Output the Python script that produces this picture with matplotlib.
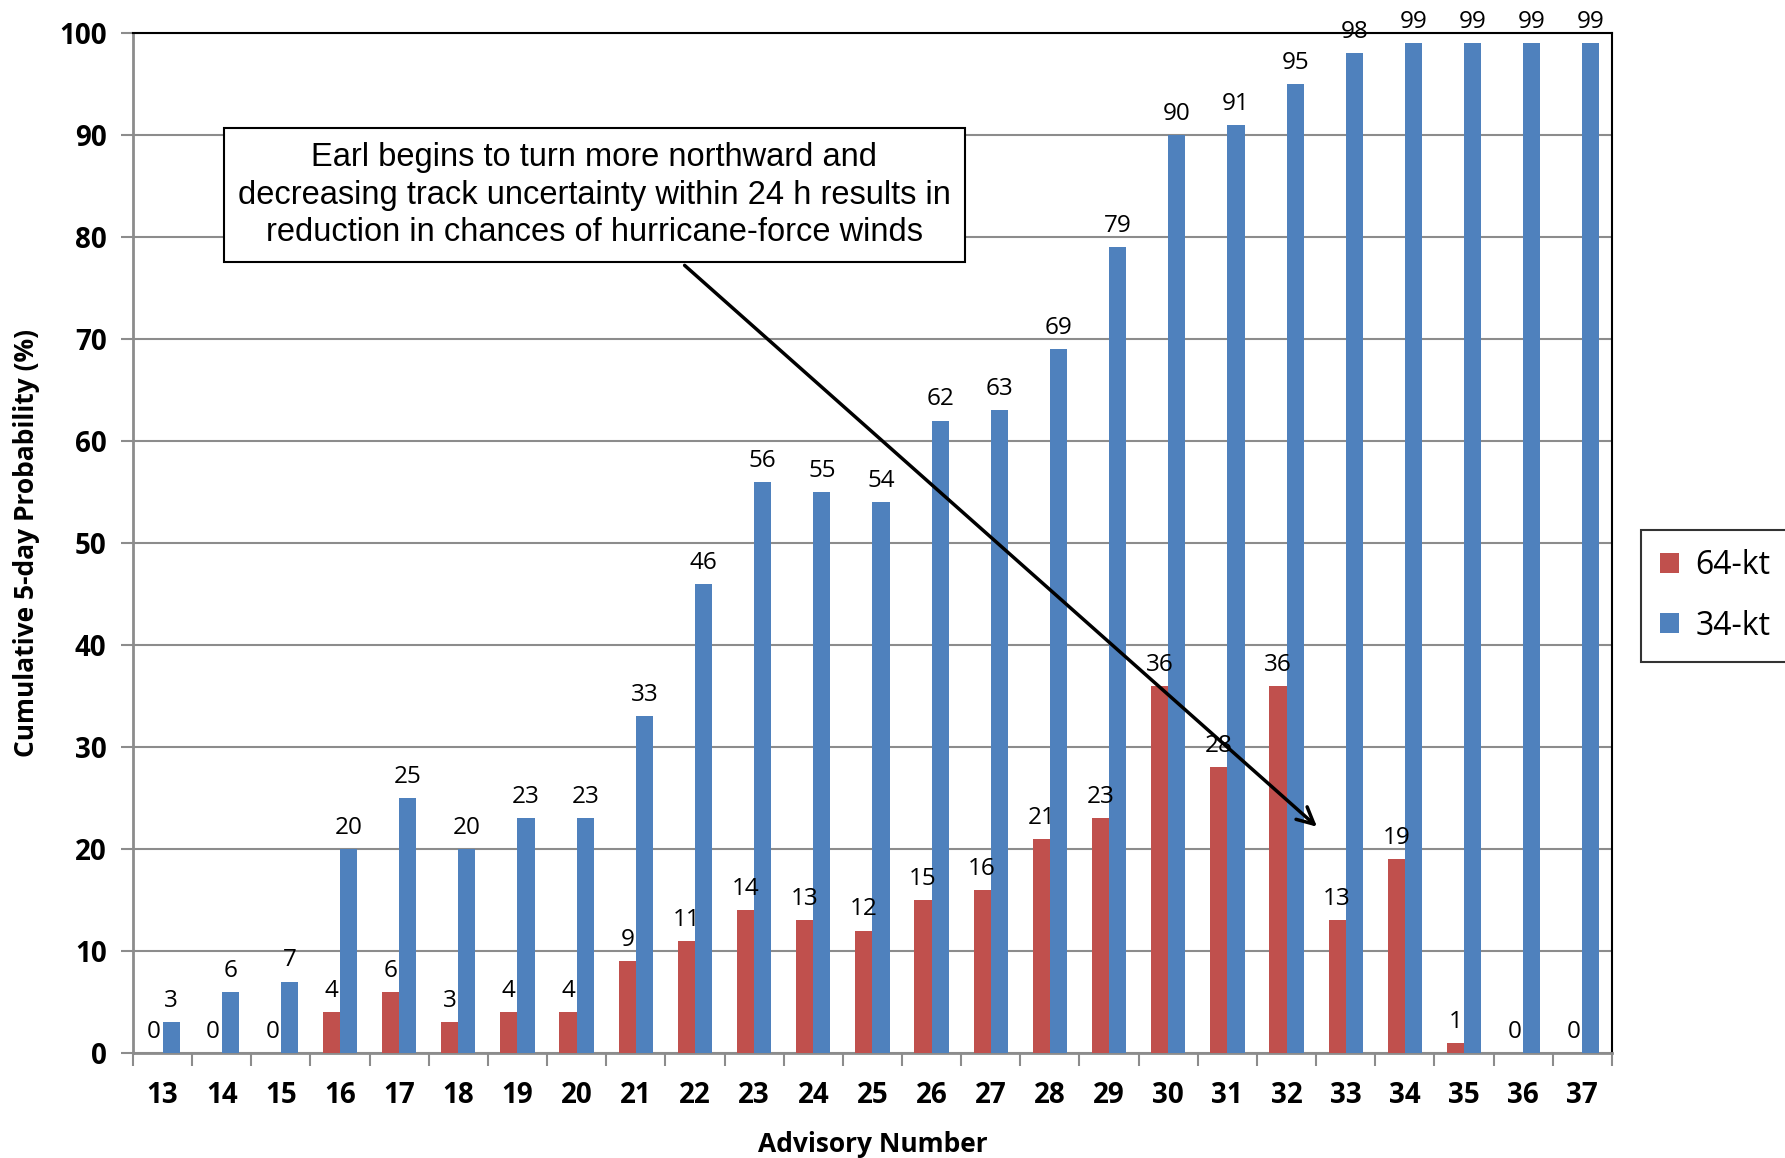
import matplotlib
matplotlib.use('Agg')
import matplotlib.pyplot as plt
import numpy as np

advisories = [str(a) for a in range(13, 38)]
kt64 = [0, 0, 0, 4, 6, 3, 4, 4, 9, 11, 14, 13, 12, 15, 16, 21, 23, 36, 28, 36, 13, 19, 1, 0, 0]
kt34 = [3, 6, 7, 20, 25, 20, 23, 23, 33, 46, 56, 55, 54, 62, 63, 69, 79, 90, 91, 95, 98, 99, 99, 99, 99]

note = ('Earl begins to turn more northward and\n'
        'decreasing track uncertainty within 24 h results in\n'
        'reduction in chances of hurricane-force winds')

red = '#C0504D'
blue = '#4F81BD'
grey = '#8c8c8c'

plt.rcParams['font.family'] = ['Open Sans', 'DejaVu Sans']

fig = plt.figure(figsize=(17.85, 11.58), dpi=100)
ax = fig.add_axes([0.0745, 0.0907, 0.8285, 0.8808])

x = np.arange(len(advisories))
w = 0.29
b1 = ax.bar(x - w / 2, kt64, w, color=red, label='64-kt', zorder=3)
b2 = ax.bar(x + w / 2, kt34, w, color=blue, label='34-kt', zorder=3)

# value labels above every bar, zeros included
for bars, vals in [(b1, kt64), (b2, kt34)]:
    for r, v in zip(bars, vals):
        ax.text(r.get_x() + r.get_width() / 2, v + 0.9, str(v), ha='center', va='bottom',
                fontsize=17.5, zorder=5)

ax.set_xlim(-0.5, len(advisories) - 0.5)
ax.set_ylim(0, 100)
ax.set_yticks(range(0, 101, 10))
ax.set_xticks(x)
ax.set_xticklabels(advisories, fontsize=20, fontweight='bold')
ax.set_xticks(np.arange(-0.5, len(advisories)), minor=True)
ax.tick_params(axis='x', which='major', length=0, pad=20)
ax.tick_params(axis='x', which='minor', length=9, width=1.5, color=grey)
ax.tick_params(axis='y', length=9, width=1.5, color=grey, labelsize=20, pad=10)
for lab in ax.get_yticklabels():
    lab.set_fontweight('bold')

ax.grid(axis='y', color=grey, linewidth=1.5, zorder=0)
ax.spines['left'].set_color(grey)
ax.spines['bottom'].set_color(grey)
ax.spines['left'].set_linewidth(2)
ax.spines['bottom'].set_linewidth(2)
ax.spines['top'].set_linewidth(1.5)
ax.spines['right'].set_linewidth(1.5)

ax.set_xlabel('Advisory Number', fontsize=19, fontweight='bold', labelpad=15)
ax.set_ylabel('Cumulative 5-day Probability (%)', fontsize=19, fontweight='bold', labelpad=14)

ax.annotate('', xy=(19.55, 22.0), xytext=(8.79, 77.4),
            arrowprops=dict(arrowstyle='->', color='black', lw=2.5, mutation_scale=30), zorder=6)
ax.text(7.3, 84.1, note, ha='center', va='center', fontsize=23.5, linespacing=1.28,
        family='Liberation Sans', zorder=7,
        bbox=dict(boxstyle='square,pad=0.42', fc='white', ec='black', lw=1.5))

leg = ax.legend(handles=[b1, b2], loc='center left', bbox_to_anchor=(1.0196, 0.448),
                fontsize=23, frameon=True, fancybox=False, edgecolor='black',
                handlelength=0.6, handleheight=0.6, handletextpad=0.5,
                borderpad=0.6, labelspacing=0.85, borderaxespad=0)
leg.get_frame().set_linewidth(1.5)

fig.savefig('out.png', dpi=100)
